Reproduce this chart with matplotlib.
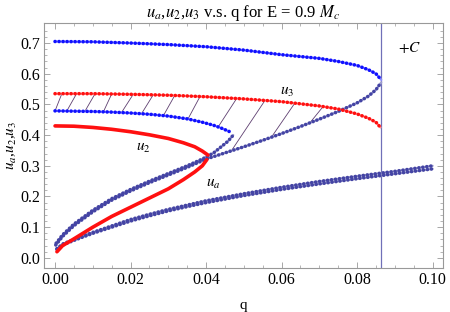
import numpy as np
import matplotlib
matplotlib.use('Agg')
import matplotlib.pyplot as plt

# ── data ──
q_top = [0.0, 0.010, 0.020, 0.030, 0.040, 0.050, 0.060, 0.070, 0.075, 0.080, 0.083, 0.085, 0.0864]
u_top = [0.705, 0.704, 0.700, 0.695, 0.688, 0.677, 0.662, 0.650, 0.640, 0.627, 0.613, 0.600, 0.580]

q_A = [0.0002, 0.002, 0.005, 0.010, 0.015, 0.020, 0.025, 0.030, 0.035, 0.040, 0.045, 0.050,
       0.055, 0.060, 0.065, 0.070, 0.075, 0.080, 0.083, 0.085, 0.0864]
u_A = [0.042, 0.070, 0.105, 0.150, 0.188, 0.218, 0.245, 0.270, 0.295, 0.322, 0.342, 0.362,
       0.383, 0.405, 0.428, 0.452, 0.477, 0.505, 0.527, 0.548, 0.572]

q_mid = [0.0, 0.005, 0.010, 0.015, 0.020, 0.025, 0.030, 0.035, 0.039, 0.042, 0.044, 0.0461]
u_mid = [0.479, 0.478, 0.477, 0.475, 0.472, 0.468, 0.462, 0.453, 0.442, 0.432, 0.423, 0.412]

q_B = [0.0003, 0.002, 0.005, 0.010, 0.015, 0.020, 0.025, 0.030, 0.035, 0.039, 0.042, 0.044, 0.0458, 0.0472]
u_B = [0.048, 0.075, 0.110, 0.155, 0.193, 0.223, 0.250, 0.275, 0.300, 0.322, 0.342, 0.362, 0.380, 0.400]

q_u3 = [0.0, 0.010, 0.020, 0.030, 0.040, 0.050, 0.060, 0.065, 0.070, 0.075, 0.080, 0.083, 0.085, 0.0862]
u_u3 = [0.535, 0.535, 0.533, 0.530, 0.525, 0.518, 0.509, 0.502, 0.495, 0.485, 0.469, 0.455, 0.442, 0.425]

q_u2_hi = [0.0, 0.005, 0.010, 0.015, 0.020, 0.025, 0.030, 0.034, 0.037, 0.039, 0.0405]
u_u2_hi = [0.430, 0.429, 0.425, 0.419, 0.411, 0.401, 0.389, 0.375, 0.362, 0.348, 0.335]

q_u2_lo = [0.0005, 0.002, 0.005, 0.010, 0.015, 0.020, 0.025, 0.030, 0.034, 0.037, 0.039, 0.0402]
u_u2_lo = [0.020, 0.040, 0.062, 0.100, 0.135, 0.165, 0.195, 0.225, 0.255, 0.280, 0.300, 0.320]

q_ua = [0.0005, 0.002, 0.005, 0.010, 0.015, 0.020, 0.025, 0.030, 0.035, 0.040,
        0.050, 0.060, 0.070, 0.080, 0.090, 0.100]
u_ua1 = [0.030, 0.045, 0.060, 0.083, 0.104, 0.125, 0.142, 0.158, 0.172, 0.186,
         0.209, 0.230, 0.249, 0.266, 0.282, 0.300]
u_ua2 = [0.028, 0.042, 0.057, 0.080, 0.100, 0.120, 0.137, 0.153, 0.167, 0.180,
         0.203, 0.223, 0.241, 0.258, 0.274, 0.290]

# hatch lines: q of lower end (on middle curve, then on the rising branch) and upper end (on u3)
hatch_q_low_mid = [0.0, 0.0031, 0.0079, 0.0128, 0.0176, 0.0229, 0.0287, 0.0352, 0.0432]
hatch_q_low_A = [0.0467, 0.0573, 0.0675]
hatch_q_top = [0.0018, 0.0057, 0.0106, 0.0150, 0.0207, 0.0260, 0.0317, 0.0384, 0.0481,
               0.0556, 0.0635, 0.0710]

q_C = 0.0864

x_ticks = [0.00, 0.02, 0.04, 0.06, 0.08, 0.10]
y_ticks = [0.0, 0.1, 0.2, 0.3, 0.4, 0.5, 0.6, 0.7]

plt.rcParams['font.family'] = ['Liberation Serif', 'DejaVu Serif']
plt.rcParams['mathtext.fontset'] = 'stix'

BLUE = '#1010ff'
SLATE = '#4444a4'
RED = '#ff1010'
HATCH = '#5e3f70'

fig = plt.figure(figsize=(4.5, 3.12), dpi=100)
ax = fig.add_axes([0.098, 0.141, 0.886, 0.785])


def dotted(x, y, color, halo):
    ax.plot(x, y, color=halo, lw=1.6, solid_capstyle='round', zorder=3)
    ax.plot(x, y, color=color, lw=2.6, dashes=(0.01, 1.1),
            dash_capstyle='round', zorder=4)


# hatching between the curves
hatch_q_low = hatch_q_low_mid + hatch_q_low_A
hatch_y_low = list(np.interp(hatch_q_low_mid, q_mid, u_mid)) + list(np.interp(hatch_q_low_A, q_A, u_A))
hatch_y_top = np.interp(hatch_q_top, q_u3, u_u3)
for q0, y0, q1, y1 in zip(hatch_q_low, hatch_y_low, hatch_q_top, hatch_y_top):
    ax.plot([q0, q1], [y0, y1], color=HATCH, lw=0.6, zorder=2)

dotted(q_top, u_top, BLUE, '#9090ff')
dotted(q_mid, u_mid, BLUE, '#9090ff')
dotted(q_A, u_A, SLATE, '#a0a0d0')
dotted(q_B, u_B, SLATE, '#a0a0d0')
dotted(q_ua, u_ua1, SLATE, '#a0a0d0')
dotted(q_ua, u_ua2, SLATE, '#a0a0d0')
dotted(q_u3, u_u3, RED, '#ff9090')

ax.plot(q_u2_hi, u_u2_hi, color=RED, lw=2.6, solid_capstyle='round', zorder=4)
ax.plot(q_u2_lo, u_u2_lo, color=RED, lw=2.6, solid_capstyle='round', zorder=4)

ax.axvline(q_C, color='#7070b8', lw=0.9, zorder=1)

ax.text(0.0614, 0.540, '$u_3$', fontsize=11, ha='center', va='center')
ax.text(0.0233, 0.358, '$u_2$', fontsize=11, ha='center', va='center')
ax.text(0.0418, 0.241, '$u_a$', fontsize=11, ha='center', va='center')
ax.text(0.0939, 0.684, '$+C$', fontsize=11, ha='center', va='center')

ax.set_xlim(-0.0029, 0.1027)
ax.set_ylim(-0.033, 0.765)
ax.set_xticks(x_ticks)
ax.set_xticklabels(['%.2f' % t for t in x_ticks])
ax.set_yticks(y_ticks)
ax.set_yticklabels(['%.1f' % t for t in y_ticks])
ax.set_xticks(np.arange(0, 0.1025, 0.005), minor=True)
ax.set_yticks(np.arange(0, 0.76, 0.02), minor=True)
ax.tick_params(which='both', direction='in', top=True, right=True,
               color='#999999', labelsize=11.5, pad=3)
ax.tick_params(which='major', length=4, width=0.6)
ax.tick_params(which='minor', length=2, width=0.5)
for s in ax.spines.values():
    s.set_color('#999999')
    s.set_linewidth(0.8)

ax.set_xlabel('q', fontsize=11, labelpad=8)
ax.set_ylabel('$u_a$,$u_2$,$u_3$', fontsize=11, labelpad=1)
ax.set_title('$u_a$,$u_2$,$u_3$ v.s. q for E = 0.9 $M_c$', fontsize=12, pad=3)

fig.savefig('out.png', dpi=100)
